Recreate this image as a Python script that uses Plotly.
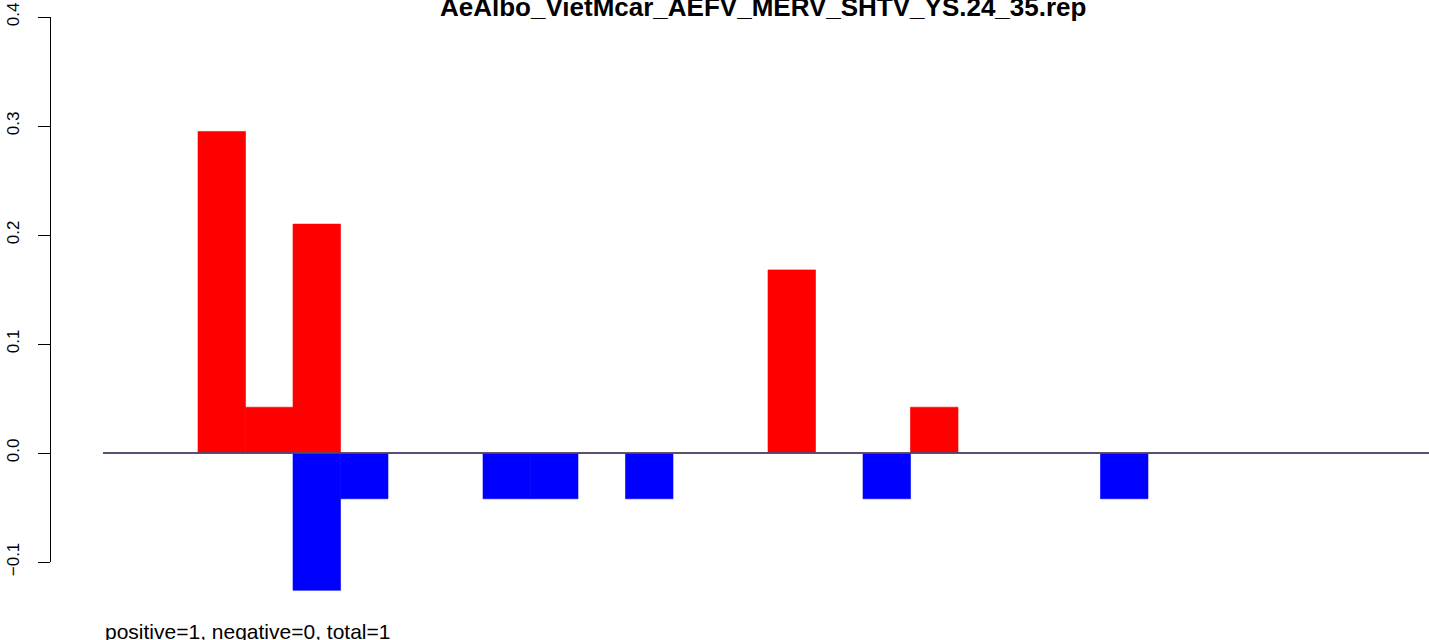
import plotly.graph_objects as go

# bar slots (R barplot, space=0)
slots = list(range(1, 29))
pos_vals = [0, 0, 0.295, 0.042, 0.21, 0, 0, 0, 0, 0, 0, 0, 0, 0, 0.168, 0, 0, 0.042,
            0, 0, 0, 0, 0, 0, 0, 0, 0, 0]
neg_vals = [0, 0, 0, 0, -0.126, -0.042, 0, 0, -0.042, -0.042, 0, -0.042, 0, 0, 0, 0, -0.042, 0,
            0, 0, 0, -0.042, 0, 0, 0, 0, 0, 0]
y_ticks = [-0.1, 0.0, 0.1, 0.2, 0.3, 0.4]
y_ticktext = ['\u22120.1', '0.0', '0.1', '0.2', '0.3', '0.4']

title = 'AeAlbo_VietMcar_AEFV_MERV_SHTV_YS.24_35.rep'
footer = 'positive=1, negative=0, total=1'

W, H = 1429, 640
x_left = 103      # pixel of x=0
slot_px = 47.5
y0_px = 453       # pixel of y=0
px_per_unit = 1090.0

centers = [s - 0.5 for s in slots]

fig = go.Figure()

fig.add_trace(go.Bar(x=centers, y=pos_vals, width=1, marker_color='#FF0000',
                     marker_line=dict(color='#FF0000', width=0.6), hoverinfo='skip'))
fig.add_trace(go.Bar(x=centers, y=neg_vals, width=1, marker_color='#0000FF',
                     marker_line=dict(color='#0000FF', width=0.6), hoverinfo='skip'))

# zero line, drawn on the visible axis so it gets rendered
fig.add_trace(go.Scatter(x=[0, slots[-1]], y=[0, 0], mode='lines',
                         line=dict(color='#555555', width=1.3),
                         yaxis='y2', hoverinfo='skip'))

fig.update_layout(
    width=W, height=H,
    margin=dict(l=0, r=0, t=0, b=0, autoexpand=False),
    plot_bgcolor='rgba(0,0,0,0)', paper_bgcolor='white',
    barmode='overlay', showlegend=False,
    font=dict(family='Liberation Sans, Arial, sans-serif', color='black'),
    xaxis=dict(domain=[x_left / W, 1],
               range=[0, (W - x_left) / slot_px],
               visible=False, automargin=False),
    yaxis=dict(domain=[0, 1],
               range=[-(H - y0_px) / px_per_unit, y0_px / px_per_unit],
               visible=False, automargin=False),
    yaxis2=dict(domain=[(H - 562) / H, (H - 17) / H],
                range=[-0.1, 0.4],
                anchor='free', position=50 / W, automargin=False,
                showline=True, linecolor='black', linewidth=1,
                ticks='outside', ticklen=12, tickcolor='black', tickwidth=1,
                tickvals=y_ticks, ticktext=y_ticktext, tickangle=-90,
                ticklabelstandoff=12,
                tickfont=dict(size=17),
                showgrid=False, zeroline=False),
)

fig.add_annotation(text='<b>' + title + '</b>', xref='paper', yref='paper',
                   x=763 / W, y=1 - 7 / H, xanchor='center', yanchor='middle',
                   showarrow=False, font=dict(size=26))
fig.add_annotation(text=footer, xref='paper', yref='paper',
                   x=x_left / W, y=1 - 631 / H, xanchor='left', yanchor='middle',
                   showarrow=False, font=dict(size=21))

fig.write_html('out.html', config={'displayModeBar': False},
               post_script="document.body.style.margin='0';")
